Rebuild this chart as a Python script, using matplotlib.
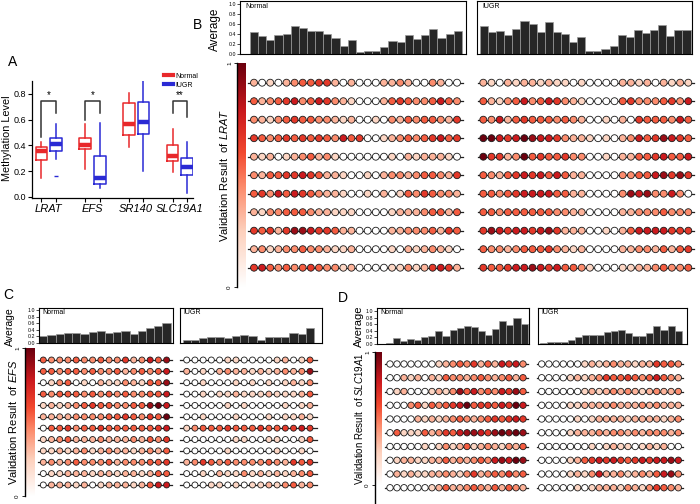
import numpy as np
import matplotlib
matplotlib.use('Agg')
import matplotlib.pyplot as plt
from matplotlib.colors import LinearSegmentedColormap
from matplotlib.lines import Line2D

plt.rcParams['font.family'] = ['Liberation Sans', 'DejaVu Sans']
plt.rcParams['mathtext.fontset'] = 'custom'
plt.rcParams['mathtext.rm'] = 'Liberation Sans'
plt.rcParams['mathtext.it'] = 'Liberation Sans:italic'

W, H = 700, 504

# ---------------- Panel A data ----------------
genes = ['LRAT', 'EFS', 'SR140', 'SLC19A1']
normal_whislo = [0.15, 0.22, 0.39, 0.19]
normal_q1 = [0.29, 0.37, 0.48, 0.28]
normal_med = [0.36, 0.40, 0.57, 0.32]
normal_q3 = [0.39, 0.46, 0.73, 0.40]
normal_whishi = [0.43, 0.57, 0.81, 0.53]
iugr_whislo = [0.295, 0.07, 0.20, 0.03]
iugr_q1 = [0.355, 0.10, 0.485, 0.17]
iugr_med = [0.41, 0.15, 0.585, 0.23]
iugr_q3 = [0.46, 0.32, 0.735, 0.30]
iugr_whishi = [0.565, 0.575, 0.92, 0.43]
iugr_fliers = [[0.163], [], [], []]
sig_labels = ['*', '*', '', '**']
bracket_top = 0.746
bracket_left_end = [0.465, 0.60, None, 0.65]
bracket_right_end = [0.65, 0.65, None, 0.62]
yticks_A = [0.0, 0.2, 0.4, 0.6, 0.8]

# ---------------- Average bars ----------------
B_normal_avg = [0.44, 0.37, 0.29, 0.38, 0.41, 0.57, 0.53, 0.47, 0.47, 0.40, 0.33, 0.17, 0.28,
                0.05, 0.07, 0.06, 0.14, 0.27, 0.25, 0.38, 0.31, 0.38, 0.50, 0.32, 0.40, 0.47]
B_iugr_avg = [0.57, 0.45, 0.46, 0.39, 0.51, 0.67, 0.60, 0.45, 0.64, 0.45, 0.41, 0.25, 0.34,
              0.06, 0.06, 0.10, 0.17, 0.38, 0.35, 0.49, 0.42, 0.49, 0.58, 0.37, 0.49, 0.49]
C_normal_avg = [0.22, 0.25, 0.27, 0.30, 0.30, 0.26, 0.32, 0.35, 0.30, 0.32, 0.35, 0.28,
                0.37, 0.45, 0.52, 0.62]
C_iugr_avg = [0.10, 0.10, 0.15, 0.17, 0.17, 0.15, 0.20, 0.25, 0.22, 0.10, 0.17, 0.17,
              0.18, 0.30, 0.28, 0.46]
D_normal_avg = [0.04, 0.18, 0.10, 0.16, 0.13, 0.21, 0.25, 0.38, 0.25, 0.43, 0.48, 0.55,
                0.51, 0.40, 0.28, 0.46, 0.70, 0.58, 0.80, 0.61]
D_iugr_avg = [0.04, 0.07, 0.07, 0.07, 0.12, 0.20, 0.26, 0.28, 0.26, 0.35, 0.38, 0.41,
              0.33, 0.23, 0.25, 0.33, 0.55, 0.42, 0.56, 0.38]
avg_ticks = [0.0, 0.2, 0.4, 0.6, 0.8, 1.0]

# ---------------- Dot matrices (level 0-9 per CpG / sample) ----------------
B_normal_rows = [
    "30203455663030003343004300",
    "53456745764320003565445754",
    "43245655443230020435455436",
    "65456565654756002345456756",
    "32302345342000000203233320",
    "43556676533200203443455436",
    "56475765433200203025465443",
    "32445554332220000233345535",
    "65636887665330000334445365",
    "34234454432230000203234320",
    "67545456544230000224236763",
]
B_iugr_rows = [
    "32032332322020000332303232",
    "53245745764320000564445647",
    "54735655545430020306555475",
    "99767987764332020347568765",
    "96634956556440020335567557",
    "54356767575330000445578686",
    "55456777755330000487844740",
    "55455555544330000334445444",
    "68767767863330020357777666",
    "54434555643230000334435356",
    "65567787675542000223345445",
]
C_normal_rows = [
    "5444544544634758",
    "5545545445345457",
    "0245020322432558",
    "5455545454544557",
    "2323456554455897",
    "3333444455654659",
    "0556455655555567",
    "2345333433343546",
    "2232342343323435",
    "3434544453444556",
    "0223332332332355",
    "0333230233323577",
]
C_iugr_rows = [
    "0000022000023025",
    "3020343323234348",
    "0020002020202324",
    "0020223222322235",
    "0000020200002023",
    "0020002000202232",
    "2455565556556676",
    "0000002200220025",
    "0000020000020020",
    "3465454444543656",
    "0020322423232345",
    "0002202022324534",
]
D_normal_rows = [
    "00000002345463537674",
    "00323032544345434535",
    "02300023248574547685",
    "00045254567956657697",
    "00003232345434565676",
    "05222534657887689898",
    "00000202423523432435",
    "02332233534345478798",
    "03232233432463454645",
    "00000023533454353543",
]
D_iugr_rows = [
    "00000023234332336554",
    "00002323465565457543",
    "00000023234343234334",
    "00002233334333434333",
    "00000202333323333234",
    "00002333434434344434",
    "00000002023220232300",
    "00002356767656767787",
    "00002324733423435784",
    "00000202333243246543",
]

cmap = LinearSegmentedColormap.from_list(
    'meth', [(0.0, '#ffffff'), (0.25, '#fdd0bc'), (0.45, '#fc8a6a'),
             (0.6, '#f2492f'), (0.78, '#cc1a1e'), (1.0, '#6b000e')])

RED = '#e8282b'
BLUE = '#2a2ad4'

fig = plt.figure(figsize=(W / 100, H / 100), dpi=100)


def px_axes(x0, y0, x1, y1):
    return fig.add_axes([x0 / W, 1 - y1 / H, (x1 - x0) / W, (y1 - y0) / H])


def ftext(x, y, s, **kw):
    fig.text(x / W, 1 - y / H, s, **kw)


# ---------------- Panel A ----------------
axA = px_axes(32, 81, 193, 198)
pos_n = [3 * i for i in range(len(genes))]
pos_i = [3 * i + 1 for i in range(len(genes))]
stats_n = [dict(med=normal_med[i], q1=normal_q1[i], q3=normal_q3[i],
                whislo=normal_whislo[i], whishi=normal_whishi[i], fliers=[])
           for i in range(len(genes))]
stats_i = [dict(med=iugr_med[i], q1=iugr_q1[i], q3=iugr_q3[i],
                whislo=iugr_whislo[i], whishi=iugr_whishi[i], fliers=iugr_fliers[i])
           for i in range(len(genes))]
for stats, pos, col in [(stats_n, pos_n, RED), (stats_i, pos_i, BLUE)]:
    axA.bxp(stats, positions=pos, widths=0.8, showcaps=False,
            boxprops=dict(color=col, lw=1.1),
            whiskerprops=dict(color=col, lw=1.1),
            medianprops=dict(color=col, lw=3.2, solid_capstyle='butt'),
            flierprops=dict(marker='_', markeredgecolor=col, markersize=3, lw=0))
for i, lab in enumerate(sig_labels):
    if not lab:
        continue
    xl, xr = pos_n[i], pos_i[i]
    axA.plot([xl, xl, xr, xr], [bracket_left_end[i], bracket_top, bracket_top, bracket_right_end[i]],
             color='#333333', lw=1.1)
    axA.text((xl + xr) / 2, bracket_top + 0.005, lab, ha='center', va='bottom', fontsize=7)
axA.set_xlim(-0.65, 10.4)
axA.set_ylim(-0.008, 0.9)
axA.set_yticks(yticks_A)
axA.set_yticklabels([f'{v:.1f}' for v in yticks_A], fontsize=6.5)
axA.set_xticks(pos_n + pos_i)
axA.set_xticklabels([])
axA.set_xticks([3 * i + 0.5 for i in range(len(genes))], minor=True)
axA.set_xticklabels(genes, minor=True, fontsize=8, style='italic')
axA.tick_params(axis='x', which='minor', length=0, pad=4)
axA.tick_params(axis='both', which='major', length=3, width=0.8, pad=1.5)
for s in ['top', 'right']:
    axA.spines[s].set_visible(False)
axA.spines['left'].set_linewidth(0.9)
axA.spines['bottom'].set_linewidth(0.9)
ftext(7, 138, 'Methylation Level', rotation=90, ha='center', va='center', fontsize=7.8)
fig.legend(handles=[Line2D([], [], color=RED, lw=3), Line2D([], [], color=BLUE, lw=3)],
           labels=['Normal', 'IUGR'], loc='upper left',
           bbox_to_anchor=(161 / W, 1 - 70 / H), frameon=False, fontsize=5,
           handlelength=1.3, handletextpad=0.4, labelspacing=0.3, borderaxespad=0)


# ---------------- helpers ----------------
def bar_panel(box, vals, c0, s, ylim_top, label, show_ticks):
    x0, y0, x1, y1 = box
    ax = px_axes(x0, y0, x1, y1)
    ax.bar(np.arange(len(vals)), vals, width=1.0, color='#262626',
           edgecolor='#9a9a9a', linewidth=0.5)
    ax.set_xlim((x0 - c0) / s, (x1 - c0) / s)
    ax.set_ylim(0, ylim_top)
    ax.set_xticks([])
    for sp in ax.spines.values():
        sp.set_linewidth(0.8)
    if show_ticks:
        ax.set_yticks(avg_ticks)
        ax.set_yticklabels([f'{v:.1f}' for v in avg_ticks], fontsize=3.8)
        ax.tick_params(axis='y', length=2, width=0.5, pad=1)
    else:
        ax.set_yticks([])
    ax.text(0.025, 0.96, label, transform=ax.transAxes, ha='left', va='top', fontsize=5)
    return ax


def dot_panel(box, rows, c0, s, r0, rs, msize, line_ext):
    x0, y0, x1, y1 = box
    ax = px_axes(x0, y0, x1, y1)
    mat = np.array([[int(ch) for ch in r] for r in rows]) / 9.0
    nr, nc = mat.shape
    for j in range(nr):
        ax.plot([-line_ext, nc - 1 + line_ext], [j, j], color='#222222', lw=0.9, zorder=1)
    xx, yy = np.meshgrid(np.arange(nc), np.arange(nr))
    ax.scatter(xx.ravel(), yy.ravel(), c=mat.ravel(), cmap=cmap, vmin=0, vmax=1,
               s=msize ** 2, edgecolors='#1a1a1a', linewidths=0.6, zorder=2)
    ax.set_xlim((x0 - c0) / s, (x1 - c0) / s)
    ax.set_ylim((y1 - r0) / rs, (y0 - r0) / rs)
    ax.axis('off')
    return ax


def cbar_panel(box, ymin):
    x0, y0, x1, y1 = box
    ax = px_axes(x0, y0, x1, y1)
    grad = np.linspace(ymin, 1, 256).reshape(-1, 1)
    ax.imshow(np.clip(grad, 0, 1), cmap=cmap, vmin=0, vmax=1, aspect='auto',
              origin='lower', extent=(0, 1, ymin, 1))
    ax.set_xlim(0, 1)
    ax.set_ylim(ymin, 1)
    for sp in ['top', 'right', 'bottom']:
        ax.spines[sp].set_visible(False)
    ax.spines['left'].set_linewidth(1.0)
    ax.set_xticks([])
    ax.set_yticks([0, 1])
    ax.set_yticklabels(['0', '1'], fontsize=4.5, rotation=90, va='center')
    ax.tick_params(axis='y', length=2.5, width=0.6, pad=1)
    return ax


# ---------------- Panel B ----------------
bar_panel((240, 1, 466, 54), B_normal_avg, 254, 8.15, 1.06, 'Normal', True)
bar_panel((477, 1, 692, 54), B_iugr_avg, 484, 8.1, 1.06, 'IUGR', False)
ftext(215, 29, 'Average', rotation=90, ha='center', va='center', fontsize=8.5)
cbar_panel((237, 63, 245, 287), 0.0)
dot_panel((244, 70, 470, 280), B_normal_rows, 254, 8.12, 82.7, 18.5, 5.0, 0.72)
dot_panel((474, 70, 698, 280), B_iugr_rows, 483.3, 8.2, 82.7, 18.5, 5.0, 0.7)
ftext(224, 175, r'Validation Result  of $\it{LRAT}$', rotation=90, ha='center', va='center', fontsize=8)

# ---------------- Panel C ----------------
bar_panel((39, 308, 173, 343), C_normal_avg, 43.3, 8.22, 1.06, 'Normal', True)
bar_panel((180, 308, 322, 343), C_iugr_avg, 186.7, 8.22, 1.06, 'IUGR', False)
ftext(10, 327, 'Average', rotation=90, ha='center', va='center', fontsize=7.5)
cbar_panel((25, 348, 35, 496), 0.0)
dot_panel((34, 352, 178, 494), C_normal_rows, 43.3, 8.22, 360, 11.36, 4.3, 0.65)
dot_panel((176, 352, 322, 494), C_iugr_rows, 186.7, 8.22, 360, 11.36, 4.3, 0.8)
ftext(13, 422, r'Validation Result  of $\it{EFS}$', rotation=90, ha='center', va='center', fontsize=8)

# ---------------- Panel D ----------------
bar_panel((377, 308, 529, 344), D_normal_avg, 389.2, 7.1, 1.09, 'Normal', True)
bar_panel((538, 308, 687, 344), D_iugr_avg, 543.3, 7.1, 1.09, 'IUGR', False)
ftext(359, 326, 'Average', rotation=90, ha='center', va='center', fontsize=8)
cbar_panel((375, 352, 382, 504), -0.144)
dot_panel((381, 355, 536, 497), D_normal_rows, 390, 7.0, 364, 13.75, 4.6, 0.7)
dot_panel((533, 355, 692, 497), D_iugr_rows, 541.7, 7.19, 364, 13.75, 4.6, 0.7)
ftext(359, 419, r'Validation Result  of $\it{SLC19A1}$', rotation=90, ha='center', va='center', fontsize=7)

# ---------------- Panel letters ----------------
ftext(13, 62, 'A', ha='center', va='center', fontsize=10)
ftext(197, 25, 'B', ha='center', va='center', fontsize=10)
ftext(8, 295, 'C', ha='center', va='center', fontsize=10)
ftext(343, 298, 'D', ha='center', va='center', fontsize=10)

fig.savefig('out.png', dpi=100)
